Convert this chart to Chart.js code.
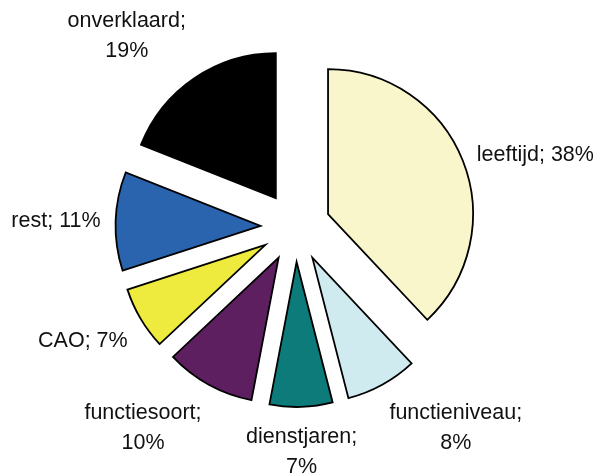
<!DOCTYPE html>
<html lang="nl">
<head>
<meta charset="utf-8">
<script src="https://cdn.jsdelivr.net/npm/chart.js@4/dist/chart.umd.min.js"></script>
<style>
  html, body { margin: 0; padding: 0; background: #ffffff; }
  #wrap { width: 595px; height: 474px; }
</style>
</head>
<body>
<div id="wrap"><canvas id="taart"></canvas></div>
<script>
const categorieen = ["leeftijd", "functieniveau", "dienstjaren", "functiesoort", "CAO", "rest", "onverklaard"];
const aandelen = [38, 8, 7, 10, 7, 11, 19];
const kleuren = ["#FAF6CC", "#CFEBF0", "#0D7B7A", "#5E1F61", "#EEEA3E", "#2A64AF", "#000000"];

const uitsprong = 35;
const lettertype = "21.5px 'Liberation Sans', Arial, sans-serif";
const regelHoogte = 30;

// eigen tekenstap: elke punt naar buiten schuiven langs zijn middenhoek
const uitgeschovenTaart = {
  id: "uitgeschovenTaart",
  beforeDatasetDraw(chart, args) {
    const ctx = chart.ctx;
    args.meta.data.forEach((boog) => {
      const midden = (boog.startAngle + boog.endAngle) / 2;
      ctx.save();
      ctx.translate(Math.cos(midden) * uitsprong, Math.sin(midden) * uitsprong);
      boog.draw(ctx, chart.chartArea);
      ctx.restore();
    });
    return false;
  },
};

const etiketten = {
  id: "etiketten",
  afterDraw(chart) {
    const ctx = chart.ctx;
    const meta = chart.getDatasetMeta(0);
    ctx.save();
    ctx.font = lettertype;
    ctx.fillStyle = "#111111";
    ctx.textBaseline = "middle";
    meta.data.forEach((boog, i) => {
      const midden = (boog.startAngle + boog.endAngle) / 2;
      const dx = Math.cos(midden);
      const dy = Math.sin(midden);
      const afstand = uitsprong + boog.outerRadius + 15;
      const px = boog.x + dx * afstand;
      const py = boog.y + dy * afstand;

      const volledig = categorieen[i] + "; " + aandelen[i] + "%";
      const regels = ctx.measureText(volledig).width > 130
        ? [categorieen[i] + ";", aandelen[i] + "%"]
        : [volledig];
      const breedte = Math.max(...regels.map((r) => ctx.measureText(r).width));
      const hoogte = regels.length * regelHoogte;

      let links = px - breedte / 2;
      if (dx > 0.4) links = px;
      else if (dx < -0.4) links = px - breedte;
      let boven = py - hoogte / 2;
      if (dy > 0.4) boven = py;
      else if (dy < -0.4) boven = py - hoogte;

      ctx.textAlign = "center";
      regels.forEach((r, j) => {
        ctx.fillText(r, links + breedte / 2, boven + regelHoogte * (j + 0.5));
      });
    });
    ctx.restore();
  },
};

new Chart(document.getElementById("taart"), {
  type: "pie",
  data: {
    labels: categorieen,
    datasets: [
      {
        data: aandelen,
        backgroundColor: kleuren,
        borderColor: "#000000",
        borderWidth: 1.8,
        borderJoinStyle: "miter",
        radius: 145,
      },
    ],
  },
  options: {
    responsive: true,
    maintainAspectRatio: false,
    animation: false,
    events: [],
    layout: { padding: { top: 0, bottom: 20, left: 0, right: 4 } },
    plugins: {
      legend: { display: false },
      tooltip: { enabled: false },
    },
  },
  plugins: [uitgeschovenTaart, etiketten],
});
</script>
</body>
</html>
